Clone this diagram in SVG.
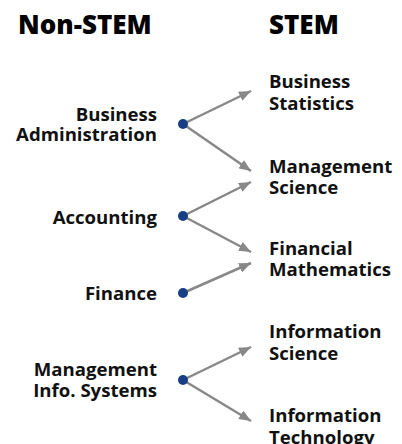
<svg xmlns="http://www.w3.org/2000/svg" width="402" height="444" viewBox="0 0 402 444">
<defs>
<marker id="ah" viewBox="0 0 12 10" refX="12" refY="5" markerWidth="12" markerHeight="10" markerUnits="userSpaceOnUse" orient="auto">
<path d="M0,0 L12,5 L0,10 Z" fill="#888888"/>
</marker>
</defs>
<style>
.h{font-family:"Open Sans","Noto Sans",sans-serif;font-weight:800;font-size:26px;fill:#000}
.l{font-family:"Open Sans","Noto Sans",sans-serif;font-weight:700;font-size:18.6px;fill:#111}
.r{text-anchor:end}
.c{stroke:#888888;stroke-width:2.5;fill:none;marker-end:url(#ah)}
.d{fill:#173f86}
</style>
<rect width="402" height="444" fill="#fff"/>
<text class="h" x="18" y="34">Non-STEM</text>
<text class="h" x="269" y="34">STEM</text>
<g id="connectors">
<line class="c" x1="183" y1="124" x2="251" y2="91"/>
<line class="c" x1="183" y1="124" x2="251" y2="171"/>
<line class="c" x1="183" y1="216" x2="251" y2="182"/>
<line class="c" x1="183" y1="216" x2="251" y2="252"/>
<line class="c" x1="183" y1="293" x2="251" y2="263"/>
<line class="c" x1="183" y1="380" x2="251" y2="347"/>
<line class="c" x1="183" y1="380" x2="251" y2="421"/>
</g>
<g id="n-ba"><text class="l r" x="157" y="120.7">Business</text><text class="l r" x="157" y="140.7">Administration</text><circle class="d" cx="183" cy="124" r="5"/></g>
<g id="n-acc"><text class="l r" x="157" y="224">Accounting</text><circle class="d" cx="183" cy="216" r="5"/></g>
<g id="n-fin"><text class="l r" x="157" y="300">Finance</text><circle class="d" cx="183" cy="293" r="5"/></g>
<g id="n-mis"><text class="l r" x="157" y="375.7">Management</text><text class="l r" x="157" y="397">Info. Systems</text><circle class="d" cx="183" cy="380" r="5"/></g>
<g id="n-bs"><text class="l" x="269" y="88">Business</text><text class="l" x="269" y="110">Statistics</text></g>
<g id="n-ms"><text class="l" x="269" y="172.5">Management</text><text class="l" x="269" y="194">Science</text></g>
<g id="n-fm"><text class="l" x="269" y="254.5">Financial</text><text class="l" x="269" y="276">Mathematics</text></g>
<g id="n-is"><text class="l" x="269" y="338">Information</text><text class="l" x="269" y="359.5">Science</text></g>
<g id="n-it"><text class="l" x="269" y="422">Information</text><text class="l" x="269" y="443.5">Technology</text></g>
</svg>
